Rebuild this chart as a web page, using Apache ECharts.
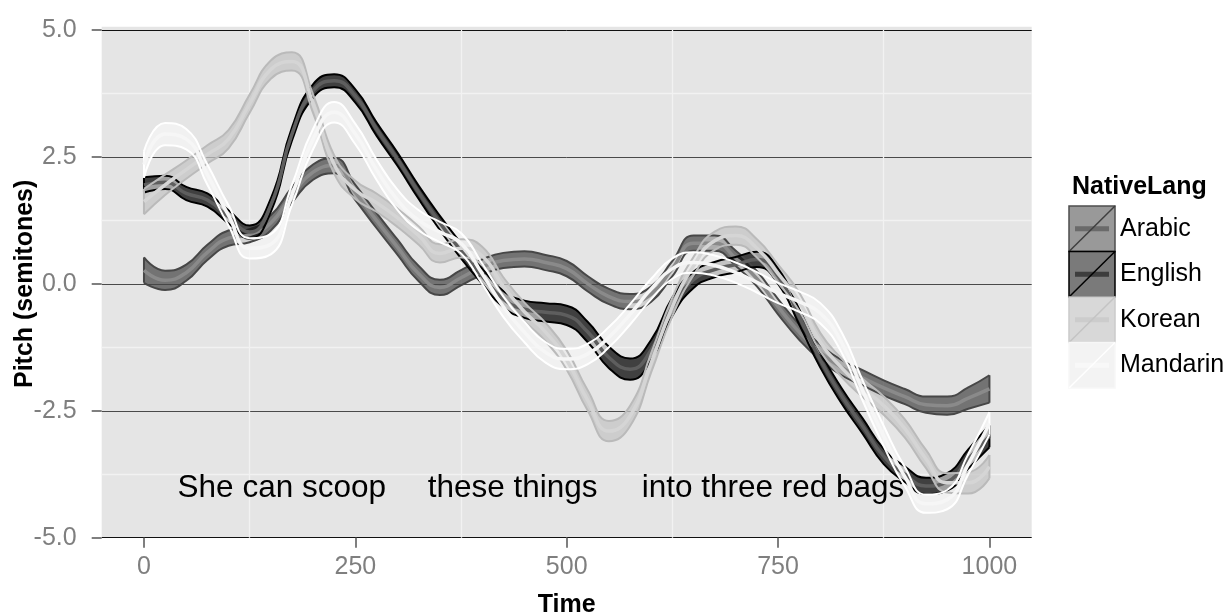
<!DOCTYPE html>
<html><head><meta charset="utf-8">
<script src="https://cdn.jsdelivr.net/npm/echarts@6/dist/echarts.min.js"></script>
<style>html,body{margin:0;padding:0;background:#fff}#c{width:1229px;height:615px}</style>
</head><body><div id="c"></div>
<script>
// ---------- data ----------
const time = [0,25,50,75,100,125,150,175,200,225,250,275,300,325,350,375,400,425,450,475,500,525,550,575,600,625,650,675,700,725,750,775,800,825,850,875,900,925,950,975,1000];
const languages = ['Arabic','English','Korean','Mandarin'];
const arabicMean = [0.27,0.07,0.22,0.62,0.9,0.97,1.2,1.75,2.2,2.33,1.8,1.25,0.72,0.2,-0.07,0.12,0.33,0.46,0.49,0.42,0.3,0.0,-0.25,-0.35,-0.2,0.3,0.8,0.8,0.5,0.1,-0.45,-0.95,-1.35,-1.65,-1.85,-2.05,-2.22,-2.38,-2.4,-2.25,-2.07];
const englishMean = [1.95,2.0,1.78,1.65,1.32,1.02,1.55,2.95,3.8,4.0,3.7,3.05,2.45,1.8,1.2,0.65,0.15,-0.3,-0.5,-0.56,-0.62,-0.95,-1.45,-1.68,-1.3,-0.45,0.08,0.28,0.38,0.48,0.15,-0.65,-1.5,-2.2,-2.8,-3.4,-3.75,-3.98,-3.9,-3.45,-3.0];
const koreanMean = [1.62,1.95,2.25,2.55,2.85,3.55,4.22,4.38,3.55,2.35,1.85,1.6,1.3,0.95,0.6,0.7,0.55,-0.05,-0.55,-0.95,-1.5,-2.3,-2.9,-2.6,-1.55,-0.45,0.35,0.85,0.95,0.7,0.2,-0.35,-1.15,-1.65,-2.05,-2.4,-2.85,-3.45,-3.92,-3.92,-3.6];
const mandarinMean = [2.35,2.95,2.85,2.15,1.35,0.7,0.78,1.75,2.85,3.38,2.95,2.25,1.65,1.25,1.02,0.8,0.2,-0.45,-0.95,-1.35,-1.48,-1.38,-1.05,-0.6,-0.1,0.3,0.42,0.36,0.22,0.03,-0.18,-0.35,-0.58,-1.15,-2.1,-3.0,-3.8,-4.33,-4.25,-3.55,-2.75];
const arabicHalf = [0.25,0.19,0.16,0.15,0.15,0.15,0.15,0.15,0.15,0.15,0.15,0.15,0.15,0.15,0.15,0.15,0.15,0.15,0.15,0.15,0.15,0.15,0.15,0.15,0.15,0.15,0.15,0.15,0.15,0.15,0.15,0.15,0.15,0.15,0.15,0.15,0.15,0.16,0.18,0.21,0.27];
const englishHalf = [0.15,0.13,0.13,0.13,0.13,0.13,0.13,0.13,0.13,0.13,0.13,0.13,0.13,0.13,0.14,0.15,0.15,0.16,0.17,0.18,0.19,0.2,0.21,0.21,0.2,0.18,0.16,0.15,0.15,0.15,0.15,0.15,0.15,0.15,0.15,0.15,0.15,0.16,0.17,0.19,0.22];
const koreanHalf = [0.25,0.2,0.18,0.18,0.18,0.18,0.18,0.18,0.18,0.18,0.18,0.18,0.18,0.18,0.18,0.18,0.18,0.18,0.18,0.18,0.19,0.2,0.2,0.2,0.19,0.18,0.18,0.18,0.18,0.18,0.18,0.18,0.18,0.18,0.18,0.18,0.18,0.18,0.19,0.21,0.23];
const mandarinHalf = [0.26,0.22,0.2,0.2,0.2,0.2,0.2,0.2,0.2,0.2,0.2,0.2,0.2,0.2,0.2,0.2,0.2,0.2,0.2,0.2,0.2,0.2,0.2,0.2,0.2,0.2,0.2,0.2,0.2,0.2,0.2,0.2,0.2,0.2,0.2,0.2,0.19,0.18,0.19,0.2,0.22];
const xTickValues = [0,250,500,750,1000];
const xMinorLines = [125,375,625,875];
const annotationText = ['She can scoop','these things','into three red bags'];
const annotationX = [163,436,744];
const annotationY = [-4.03,-4.03,-4.03];
const legendTitle = 'NativeLang';

// ---------- styles ----------
const FONT = '"Liberation Sans", Arial, Helvetica, sans-serif';
const means = [arabicMean, englishMean, koreanMean, mandarinMean];
const halves = [arabicHalf, englishHalf, koreanHalf, mandarinHalf];
const styles = [
  {outline:'#474747', fill:'rgba(70,70,70,0.72)', center:'#8a8a8a', keyFill:'#999999', keyBorder:'#4d4d4d', keyDiag:'#3f3f3f', keyBar:'#6a6a6a'},
  {outline:'#000000', fill:'rgba(0,0,0,0.72)', center:'#5e5e5e', keyFill:'#7a7a7a', keyBorder:'#000000', keyDiag:'#000000', keyBar:'#3d3d3d'},
  {outline:'#bababa', fill:'rgba(195,195,195,0.72)', center:'#d5d5d5', keyFill:'#d8d8d8', keyBorder:'#cacaca', keyDiag:'#c4c4c4', keyBar:'#cccccc'},
  {outline:'#ffffff', fill:'rgba(245,245,245,0.72)', center:'#f6f6f6', keyFill:'#f3f3f3', keyBorder:'#f7f7f7', keyDiag:'#ffffff', keyBar:'#f8f8f8'}
];

const series = [];
// minor vertical grid lines (drawn via x scale)
series.push({type:'line', data:[], silent:true, z:1,
  markLine:{silent:true, z:1, symbol:'none', label:{show:false}, animation:false,
    lineStyle:{color:'#f2f2f2', width:1.3, type:'solid'},
    data: xMinorLines.map(v => ({xAxis:v}))}});
// annotations (under the curves)
series.push({type:'scatter', silent:true, z:1, symbolSize:1, itemStyle:{color:'rgba(0,0,0,0)'},
  data: annotationText.map((t,i) => ({name:t, value:[annotationX[i], annotationY[i]]})),
  label:{show:true, position:'inside', formatter:p => p.name, fontSize:31.5, color:'#000000', opacity:1, textBorderWidth:0, fontFamily:FONT}});

languages.forEach((lang, i) => {
  const m = means[i], h = halves[i], st = styles[i];
  // stacked pairs are stored [value, time] so that the value column is the stacked one
  const lowerVT = time.map((t,k) => [m[k] - h[k], t]);
  const bandVT = time.map((t,k) => [2*h[k], t]);
  const lower = time.map((t,k) => [t, m[k] - h[k]]);
  const center = time.map((t,k) => [t, m[k]]);
  const last = time.length - 1;
  const common = {smooth:0.5, symbol:'none', silent:true, z:2};
  series.push(Object.assign({type:'line', name:lang+'_lo', data:lowerVT, encode:{x:1, y:0}, stack:lang, stackStrategy:'all',
    lineStyle:{opacity:0, width:0}}, common));
  series.push(Object.assign({type:'line', name:lang+'_band', data:bandVT, encode:{x:1, y:0}, stack:lang, stackStrategy:'all',
    lineStyle:{color:st.outline, width:2}, areaStyle:{color:st.fill, opacity:1}}, common));
  series.push(Object.assign({type:'line', name:lang+'_loEdge', data:lower,
    lineStyle:{color:st.outline, width:2}}, common));
  series.push({type:'line', name:lang+'_cap0', data:[[time[0], m[0]-h[0]],[time[0], m[0]+h[0]]], symbol:'none', silent:true, z:2,
    lineStyle:{color:st.outline, width:2}});
  series.push({type:'line', name:lang+'_cap1', data:[[time[last], m[last]-h[last]],[time[last], m[last]+h[last]]], symbol:'none', silent:true, z:2,
    lineStyle:{color:st.outline, width:2}});
  series.push(Object.assign({type:'line', name:lang, data:center,
    lineStyle:{color:st.center, width:3.5}}, common));
});

// legend (graphic)
const keyX = 1069, keyY0 = 206, keyW = 46, keyH = 45.5;
const graphic = [
  {type:'rect', z:-10, shape:{x:101.7, y:26.7, width:930, height:4}, style:{fill:'#e5e5e5'}},
  {type:'text', x:1072, y:187, style:{text:legendTitle, fontSize:25, fontWeight:'bold', fontFamily:FONT, fill:'#000', align:'left', verticalAlign:'middle'}}
];
languages.forEach((lang, i) => {
  const st = styles[i], y = keyY0 + i*keyH;
  graphic.push({type:'rect', shape:{x:keyX, y:y, width:keyW, height:keyH}, style:{fill:st.keyFill, stroke:st.keyBorder, lineWidth:1.5}});
  graphic.push({type:'line', shape:{x1:keyX+6, y1:y+keyH/2, x2:keyX+keyW-6, y2:y+keyH/2}, style:{stroke:st.keyBar, lineWidth:5}});
  graphic.push({type:'line', shape:{x1:keyX, y1:y+keyH, x2:keyX+keyW, y2:y}, style:{stroke:st.keyDiag, lineWidth:1.5}});
  graphic.push({type:'text', x:1120, y:y+keyH/2, style:{text:lang, fontSize:25, fontFamily:FONT, fill:'#000', align:'left', verticalAlign:'middle'}});
});

const chart = echarts.init(document.getElementById('c'), null, {renderer:'canvas'});
chart.setOption({
  animation:false,
  backgroundColor:'#ffffff',
  grid:{left:101.7, right:197.3, top:30, bottom:77.3, containLabel:false, outerBoundsMode:'none',
        show:true, backgroundColor:'#e5e5e5', borderWidth:0},
  xAxis:{type:'value', min:-50, max:1050,
    axisLine:{show:false, onZero:false},
    axisTick:{show:true, length:10, customValues:xTickValues, lineStyle:{color:'#7f7f7f', width:2}},
    axisLabel:{customValues:xTickValues, color:'#7f7f7f', fontSize:25, fontFamily:FONT, margin:17, formatter:v => String(v)},
    splitLine:{show:false},
    name:'Time', nameLocation:'middle', nameGap:55, nameMoveOverlap:false,
    nameTextStyle:{fontSize:25, fontWeight:'bold', color:'#000', fontFamily:FONT}},
  yAxis:{type:'value', min:-5, max:5, interval:2.5,
    axisLine:{show:false, onZero:false},
    axisTick:{show:true, length:10, lineStyle:{color:'#7f7f7f', width:2}},
    axisLabel:{color:'#7f7f7f', fontSize:25, fontFamily:FONT, margin:25, formatter:v => v.toFixed(1)},
    splitLine:{show:true, lineStyle:{color:['#111111','#4a4a4a','#4a4a4a','#4a4a4a','#111111'], width:1}},
    minorTick:{show:false, splitNumber:2},
    minorSplitLine:{show:true, lineStyle:{color:'#f2f2f2', width:1.3}},
    name:'Pitch (semitones)', nameLocation:'middle', nameGap:64, nameMoveOverlap:false,
    nameTextStyle:{fontSize:25, fontWeight:'bold', color:'#000', fontFamily:FONT}},
  series: series,
  graphic: graphic
});
</script></body></html>
